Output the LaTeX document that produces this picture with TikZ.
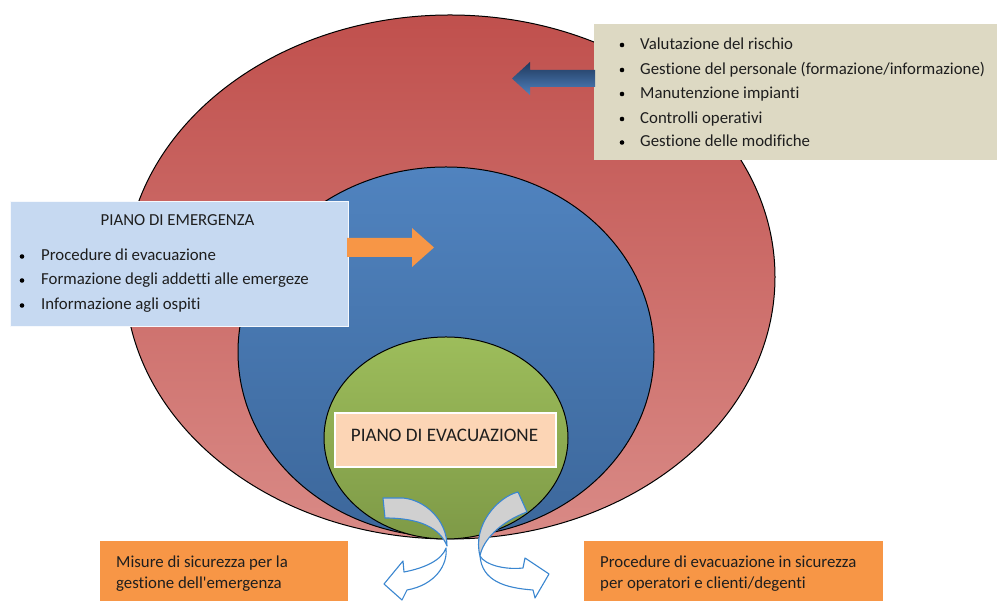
\documentclass[tikz,border=0pt]{standalone}
\usepackage{fontspec}
\setmainfont{Carlito}[Ligatures={TeXOff,CommonOff}]
\definecolor{redtop}{HTML}{C0504D}
\definecolor{redbot}{HTML}{D98A86}
\definecolor{bluetop}{HTML}{5083BF}
\definecolor{bluebot}{HTML}{3C679B}
\definecolor{greentop}{HTML}{9DBD5B}
\definecolor{greenbot}{HTML}{7E9A47}
\definecolor{tanbox}{HTML}{DDD9C3}
\definecolor{lbluebox}{HTML}{C6D9F1}
\definecolor{peach}{HTML}{FCD5B5}
\definecolor{orangebox}{HTML}{F79646}
\definecolor{navy}{HTML}{1F385C}
\definecolor{arrowlight}{HTML}{4F81BD}
\definecolor{ribbonline}{HTML}{3A86D0}
\definecolor{ribbongray}{HTML}{D0D0D0}
\definecolor{txt}{HTML}{1E1E1E}
\tikzset{
  ring/.style={draw=black, line width=1pt},
  txtline/.style={anchor=base west, inner sep=0pt, text=txt, font=\fontsize{16.8}{18}\selectfont},
  bulletdot/.style={circle, fill=black, inner sep=0pt, minimum size=4.6pt},
  ribbonback/.style={fill=ribbongray, draw=ribbonline, line width=1.1pt, line join=round},
  ribbonfront/.style={fill=white, draw=ribbonline, line width=1.1pt, line join=round},
}
\begin{document}
\begin{tikzpicture}[x=1pt,y=1pt]
\useasboundingbox (0,0) rectangle (997,601);
% ellipses
\path[ring, top color=redtop, bottom color=redbot] (450,324) ellipse (325 and 262);
\path[ring, top color=bluetop, bottom color=bluebot] (446,249) ellipse (208 and 185);
\path[ring, top color=greentop, bottom color=greenbot] (446,163) ellipse (122 and 101);

% top right box
\node[fill=tanbox, minimum width=403pt, minimum height=136pt, anchor=south west, inner sep=0pt] (tr) at (594,441) {};
\foreach \y/\t [count=\i] in {551.5/{Valutazione del rischio}, 526.5/{Gestione del personale (formazione/informazione)}, 502.5/{Manutenzione impianti}, 477.5/{Controlli operativi}, 454/{Gestione delle modifiche}}{
  \node[bulletdot] (trb\i) at (622,\y+4.5) {};
  \node[txtline] (trt\i) at (640,\y) {\t};
}
% blue arrow
\path[top color=navy, bottom color=arrowlight] (595,514) -- (530,514) -- (530,506) -- (512,522.5) -- (530,539) -- (530,531) -- (595,531) -- cycle;

% left box
\node[fill=lbluebox, draw=white!85!lbluebox, line width=1pt, minimum width=338pt, minimum height=125pt, anchor=south west, inner sep=0pt] (lb) at (10,274) {};
\node[anchor=base, inner sep=0pt, text=txt, font=\fontsize{16.8}{18}\selectfont] (lbtitle) at (177.5,375) {PIANO DI EMERGENZA};
\foreach \y/\t [count=\i] in {340/{Procedure di evacuazione}, 316/{Formazione degli addetti alle emergeze}, 291/{Informazione agli ospiti}}{
  \node[bulletdot] (lbb\i) at (22,\y+4.5) {};
  \node[txtline] (lbt\i) at (41,\y) {\t};
}
% orange arrow
\path[fill=orangebox] (347,344) -- (412,344) -- (412,334) -- (434,353.5) -- (412,373) -- (412,363) -- (347,363) -- cycle;

% center box
\node[fill=peach, draw=white, line width=1.5pt, minimum width=221pt, minimum height=54pt, anchor=south west, inner sep=0pt] (cb) at (334,133) {};
\node[anchor=base, inner sep=0pt, text=txt, font=\fontsize{19.1}{21}\selectfont] (cbt) at (444.5,159) {PIANO DI EVACUAZIONE};

% bottom boxes
\node[fill=orangebox, minimum width=248pt, minimum height=60pt, anchor=south west, inner sep=0pt] (bl) at (100,0) {};
\node[txtline] (blt1) at (116,33) {Misure di sicurezza per la};
\node[txtline] (blt2) at (116,12) {gestione dell'emergenza};
\node[fill=orangebox, minimum width=299pt, minimum height=60pt, anchor=south west, inner sep=0pt] (br) at (584,0) {};
\node[txtline] (brt1) at (600,33) {Procedure di evacuazione in sicurezza};
\node[txtline] (brt2) at (600,12) {per operatori e clienti/degenti};

% curved ribbon arrows
\path[ribbonback] (383,103) -- (403,103) .. controls (425,101) and (447,81) .. (447,55) .. controls (440,73) and (420,83) .. (385,83) -- cycle;
\path[ribbonfront] (446,53) .. controls (448,36) and (435,16) .. (407,11) -- (402,1) -- (384,17) -- (403,40) -- (404,29) .. controls (425,33) and (442,41) .. (446,53) -- cycle;
\path[ribbonback] (518,109) .. controls (498,104) and (472,76) .. (480,45) .. controls (483,61) and (500,79) .. (527,89) -- cycle;
\path[ribbonfront] (480,45) .. controls (485,36) and (505,31) .. (523,33) -- (525,43) -- (549,27) -- (535,3) -- (533,11) .. controls (505,13) and (482,20) .. (480,45) -- cycle;
\end{tikzpicture}
\end{document}
